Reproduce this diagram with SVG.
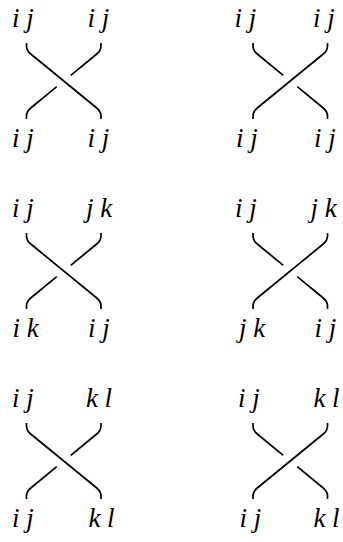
<svg xmlns="http://www.w3.org/2000/svg" xmlns:xlink="http://www.w3.org/1999/xlink" width="343" height="542" viewBox="0 0 343 542">
  <style>
    .s { fill: none; stroke: #000; stroke-width: 1.7; stroke-linecap: butt; }
    text { font-family: "Liberation Serif", serif; font-style: italic; font-size: 27px; fill: #000; text-anchor: middle; }
  </style>
  <defs>
    <g id="crossA">
      <path class="s" d="M0 0 V3 Q0 7.5 4.25 11 L70.25 65 Q74.5 68.5 74.5 73 V76"/>
      <path class="s" d="M0 76 V73 Q0 68.5 4.25 65 L30.25 43.7"/>
      <path class="s" d="M44.25 32.3 L70.25 11 Q74.5 7.5 74.5 3 V0"/>
    </g>
    <g id="crossB">
      <path class="s" d="M0 76 V73 Q0 68.5 4.25 65 L70.25 11 Q74.5 7.5 74.5 3 V0"/>
      <path class="s" d="M0 0 V3 Q0 7.5 4.25 11 L30.25 32.3"/>
      <path class="s" d="M44.25 43.7 L70.25 65 Q74.5 68.5 74.5 73 V76"/>
    </g>
  </defs>

  <g id="connectors">
    <use xlink:href="#crossA" x="26.5" y="43"/>
    <use xlink:href="#crossB" x="253" y="43"/>
    <use xlink:href="#crossA" x="26.5" y="233"/>
    <use xlink:href="#crossB" x="253" y="233"/>
    <use xlink:href="#crossA" x="26.5" y="423"/>
    <use xlink:href="#crossB" x="253" y="423"/>
  </g>

  <g id="panel-1-left">
    <text x="23" y="27">i j</text>
    <text x="98.5" y="27">i j</text>
    <text x="23" y="147">i j</text>
    <text x="98.5" y="147">i j</text>
  </g>
  <g id="panel-1-right">
    <text x="245.5" y="27">i j</text>
    <text x="324" y="27">i j</text>
    <text x="247" y="147">i j</text>
    <text x="325" y="147">i j</text>
  </g>
  <g id="panel-2-left">
    <text x="23" y="217">i j</text>
    <text x="99" y="217">j k</text>
    <text x="25.5" y="337">i k</text>
    <text x="99" y="337">i j</text>
  </g>
  <g id="panel-2-right">
    <text x="246" y="217">i j</text>
    <text x="323.5" y="217">j k</text>
    <text x="252" y="337">j k</text>
    <text x="325.5" y="337">i j</text>
  </g>
  <g id="panel-3-left">
    <text x="23" y="407">i j</text>
    <text x="99" y="407">k l</text>
    <text x="23" y="527">i j</text>
    <text x="101.5" y="527">k l</text>
  </g>
  <g id="panel-3-right">
    <text x="249" y="407">i j</text>
    <text x="326.5" y="407">k l</text>
    <text x="250.5" y="527">i j</text>
    <text x="326.5" y="527">k l</text>
  </g>
</svg>
